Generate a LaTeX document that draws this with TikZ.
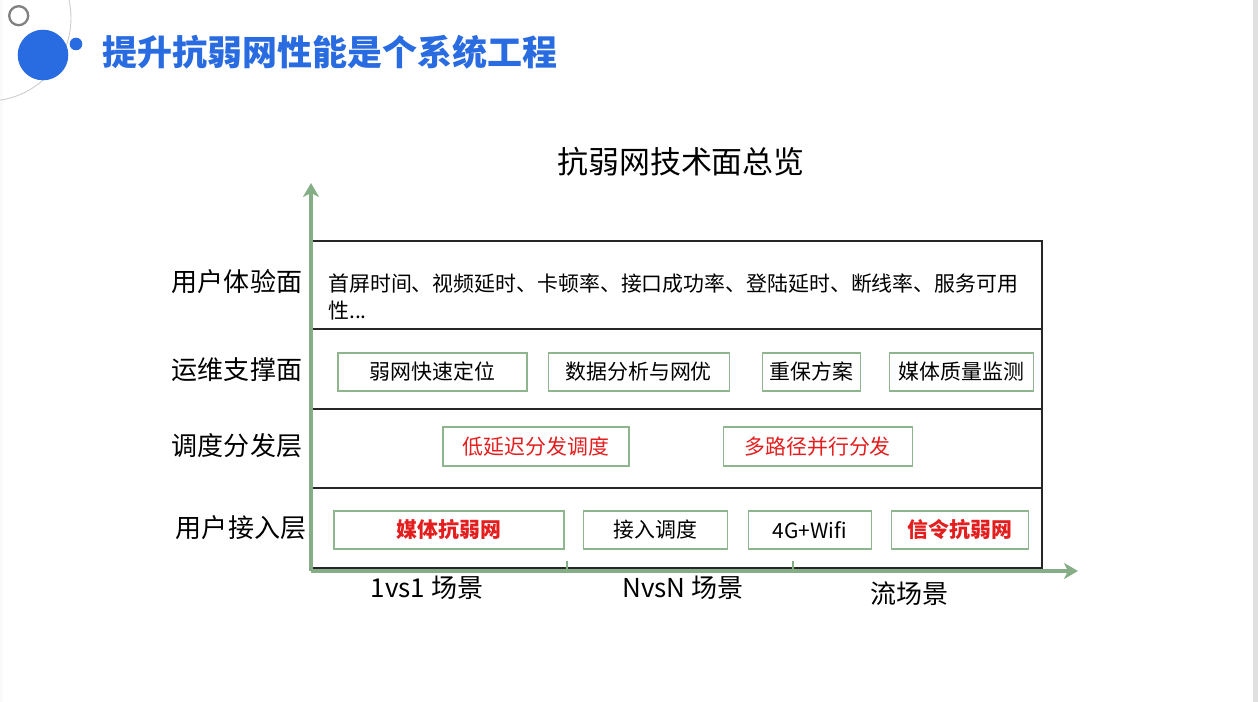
\documentclass[tikz,border=0pt]{standalone}
\usepackage{fontspec}
\setmainfont{Noto Sans CJK SC}
\usetikzlibrary{positioning,arrows.meta}
\definecolor{titleblue}{RGB}{41,107,224}
\definecolor{axisgreen}{RGB}{134,174,134}
\definecolor{boxgreen}{RGB}{143,181,143}
\definecolor{alertred}{RGB}{228,30,30}
\tikzset{
  layer/.style={font=\fontsize{14.8pt}{17pt}\selectfont},
  item/.style={draw=boxgreen,line width=0.7pt,minimum height=0.76cm,inner sep=0pt,
    font=\fontsize{11.9pt}{14pt}\selectfont},
  hot/.style={item,text=alertred},
  axis/.style={axisgreen,line width=2pt,-{Stealth[length=0.28cm,width=0.32cm,inset=0.08cm]}},
}
\begin{document}
\begin{tikzpicture}[x=0.02cm,y=-0.02cm]
  \useasboundingbox (0,0) rectangle (1258,702);
  \fill[white!98!black] (0,0) rectangle (1258,702);
  \fill[white] (3,0) rectangle (1253,702);
  \fill[black!12] (1253,0) rectangle (1258,702);
  % page header
  \begin{scope}
    \clip (0,0) rectangle (1258,702);
    \draw[black!20,line width=0.5pt] (-12,18) circle [radius=1.66cm];
  \end{scope}
  \draw[black!50,line width=1.3pt] (18.7,15.7) circle [radius=0.19cm];
  \fill[titleblue] (43,55) circle [radius=0.506cm];
  \fill[titleblue] (76,44) circle [radius=0.126cm];
  \node (head) [text=titleblue,font=\fontsize{19.9pt}{22pt}\selectfont\bfseries] at (330,52) {提升抗弱网性能是个系统工程};
  \node (title) [font=\fontsize{17.6pt}{20pt}\selectfont] at (681,162) {抗弱网技术面总览};
  % frame and layers
  \draw[black!85,line width=0.85pt] (312,241) rectangle (1042,568);
  \foreach \y in {329,409,488}
    \draw[black!85,line width=0.85pt] (312,\y) -- (1042,\y);
  \node (l1) [layer] at (237,282) {用户体验面};
  \node (l2) [layer] at (237,370) {运维支撑面};
  \node (l3) [layer] at (237,446) {调度分发层};
  \node (l4) [layer] at (241,528) {用户接入层};
  \node (kpi) [anchor=west,align=left,inner sep=0pt,font=\fontsize{11.9pt}{15.3pt}\selectfont] at (328,297)
    {首屏时间、视频延时、卡顿率、接口成功率、登陆延时、断线率、服务可用\\性...};
  % ops layer
  \node (locate) [item,minimum width=3.78cm] at (432.5,372) {弱网快速定位};
  \node (analyse) [item,minimum width=3.62cm,right=0.40cm of locate] {数据分析与网优};
  \node (guard) [item,minimum width=1.96cm,right=0.64cm of analyse] {重保方案};
  \node (monitor) [item,minimum width=2.88cm,right=0.56cm of guard] {媒体质量监测};
  % dispatch layer
  \node (lowlat) [hot,minimum width=3.72cm,minimum height=0.78cm] at (536,446.5) {低延迟分发调度};
  \node (multipath) [hot,minimum width=3.78cm,minimum height=0.78cm,right=1.86cm of lowlat] {多路径并行分发};
  % access layer
  \node (media) [hot,minimum width=4.6cm,font=\fontsize{11.9pt}{14pt}\selectfont\bfseries] at (449,530) {媒体抗弱网};
  \node (sched) [item,minimum width=2.88cm,right=0.36cm of media] {接入调度};
  \node (wifi) [item,minimum width=2.46cm,right=0.40cm of sched] {4G+Wifi};
  \node (signal) [hot,minimum width=2.74cm,font=\fontsize{11.9pt}{14pt}\selectfont\bfseries,right=0.38cm of wifi] {信令抗弱网};
  % axes
  \coordinate (O) at (311,571);
  \coordinate (ytip) at (311,183);
  \coordinate (xtip) at (1078,571);
  \draw[axis] (O) -- (ytip);
  \draw[axis] (O) -- (xtip);
  \foreach \x in {567,793}
    \draw[axisgreen,line width=1pt] (\x,561) -- (\x,571);
  \node (s1) [layer] at (427,588) {1vs1 场景};
  \node (s2) [layer] at (683,588) {NvsN 场景};
  \node (s3) [layer] at (909,594) {流场景};
\end{tikzpicture}
\end{document}
